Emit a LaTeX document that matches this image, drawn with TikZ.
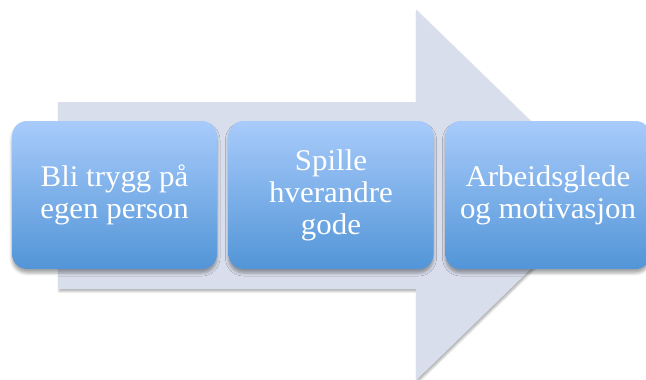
\documentclass[tikz,border=0pt]{standalone}
\usepackage{fontspec}
\setmainfont{Liberation Serif}[FakeStretch=1.03]
\usetikzlibrary{shadows.blur}
\definecolor{arrowfill}{RGB}{217,222,236}
\definecolor{boxtop}{RGB}{168,203,251}
\definecolor{boxbot}{RGB}{82,149,215}
\tikzset{
  stepbox/.style={rectangle, rounded corners=15pt, minimum width=205pt, minimum height=148pt,
    top color=boxtop, bottom color=boxbot, draw=none, text=white, align=center,
    font=\fontsize{30pt}{32pt}\selectfont,
    blur shadow={shadow xshift=0pt, shadow yshift=-4pt, shadow blur radius=3pt, shadow opacity=35}},
  bigarrow/.style={fill=arrowfill, draw=none,
    blur shadow={shadow xshift=1pt, shadow yshift=-2.5pt, shadow blur radius=2pt, shadow opacity=30}}
}
\begin{document}
\begin{tikzpicture}[x=1pt,y=-1pt]
\useasboundingbox (0,0) rectangle (646,380);
\clip (0,0) rectangle (646,380);
% big arrow
\path[bigarrow] (58,102) -- (416,102) -- (416,9.5) -- (607,195) -- (416,380.5) -- (416,289) -- (58,289) -- cycle;
% boxes
\node[stepbox] (b1) at (114.5,195) {Bli trygg på\\egen person};
\node[stepbox] (b2) at (331,195) {Spille\\hverandre\\gode};
\node[stepbox] (b3) at (548,195) {Arbeidsglede\\og motivasjon};
\end{tikzpicture}
\end{document}
